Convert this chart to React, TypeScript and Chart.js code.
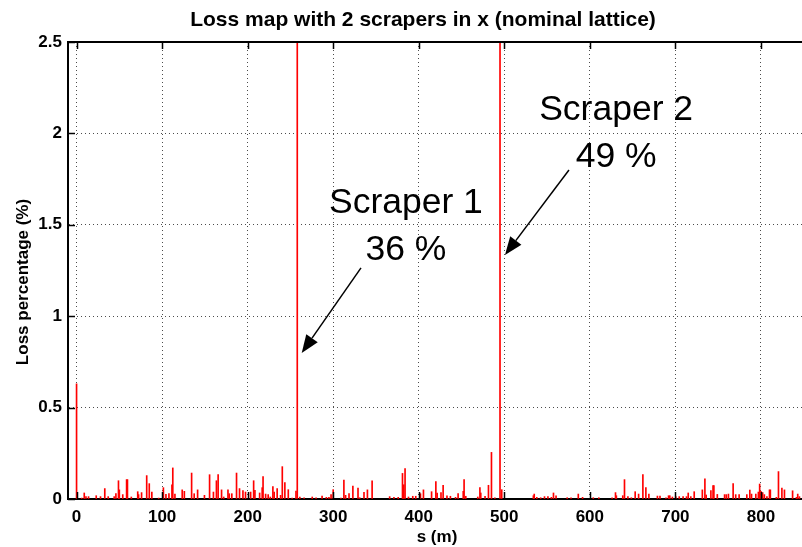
import React, { useEffect, useRef } from "react";
import { Chart, registerables } from "chart.js";

Chart.register(...registerables);

// ---- data ----
const lossS = [
  0, 6, 9, 11, 14, 23, 28, 33, 37, 44, 46, 49, 50, 54, 58.5, 59.5, 64, 71.5, 72.5, 76,
  82, 85, 88, 96, 101.5, 104.5, 108, 111.5, 112.5, 115, 123.5, 126, 134.5, 137.5, 141.5, 149.5,
  155.5, 160, 163.5, 165.5, 169.5, 172, 177, 178.5, 181.5, 187, 190.5, 194.5, 197.5, 203.5,
  207, 208.5, 214, 217, 218, 221, 224, 226.5, 229.5, 231, 234.5, 238.5, 240.5, 243.5, 247.5,
  252, 256.5, 258, 261, 266, 275.5, 280, 287, 292, 295, 297.5, 300, 309, 312.5, 314.5, 318.5,
  323, 329, 331, 336, 340, 345.5, 366, 371, 376, 381, 382.5, 384, 388, 393, 396.5, 402, 405.5,
  415, 420, 421.5, 426, 428.5, 433, 437, 443, 446, 452, 453, 455, 469, 471.5, 472.5, 477.5,
  481.5, 485, 489, 495, 497, 534, 535, 538, 542.5, 547, 551, 555, 557.5, 560.5, 573.5, 578,
  586.5, 591.5, 604, 610.5, 626, 630, 631, 638.5, 640.5, 644.5, 648.5, 653, 657, 662, 665.5,
  669, 679, 682, 689, 692, 693.5, 696.5, 700.5, 704.5, 709, 713, 715, 718, 722, 731.5, 734.5,
  736, 741.5, 744, 745, 749, 757.5, 759.5, 762, 767.5, 770.5, 774.5, 783.5, 787, 789, 794, 797,
  798.5, 800, 802, 804, 807, 810, 811, 818, 820.5, 824.5, 827.5, 837, 841.5, 843, 845,
];
const lossPct = [
  0.63, 0.005, 0.033, 0.013, 0.013, 0.018, 0.013, 0.057, 0.013, 0.013, 0.03, 0.1, 0.05, 0.024, 0.106, 0.106, 0.011, 0.04, 0.024, 0.035,
  0.128, 0.084, 0.038, 0.005, 0.062, 0.026, 0.029, 0.078, 0.17, 0.027, 0.05, 0.042, 0.142, 0.029, 0.05, 0.02,
  0.133, 0.038, 0.1, 0.133, 0.05, 0.011, 0.05, 0.029, 0.029, 0.142, 0.057, 0.046, 0.038, 0.038,
  0.1, 0.047, 0.033, 0.062, 0.122, 0.027, 0.024, 0.011, 0.068, 0.038, 0.057, 0.02, 0.177, 0.09, 0.051,
  0.005, 0.044, 36, 0.011, 0.007, 0.011, 0.007, 0.016, 0.009, 0.009, 0.024, 0.051, 0.005, 0.104, 0.02, 0.029,
  0.071, 0.06, 0.007, 0.036, 0.05, 0.1, 0.013, 0.009, 0.009, 0.14, 0.078, 0.166, 0.011, 0.015, 0.015, 0.029, 0.05,
  0.04, 0.095, 0.033, 0.035, 0.075, 0.018, 0.015, 0.009, 0.029, 0.042, 0.106, 0.015, 0.011, 0.062, 0.033, 0.015,
  0.075, 0.255, 0.007, 49, 0.051, 0.018, 0.027, 0.009, 0.007, 0.013, 0.013, 0.009, 0.033, 0.018, 0.007, 0.007,
  0.027, 0.009, 0.007, 0.007, 0.007, 0.035, 0.018, 0.018, 0.106, 0.013, 0.007, 0.04, 0.027, 0.133, 0.062,
  0.027, 0.016, 0.016, 0.007, 0.018, 0.018, 0.011, 0.013, 0.013, 0.013, 0.013, 0.033, 0.013, 0.04, 0.05, 0.111,
  0.022, 0.046, 0.073, 0.073, 0.025, 0.024, 0.024, 0.027, 0.084, 0.024, 0.024, 0.024, 0.049, 0.027, 0.027, 0.038,
  0.082, 0.042, 0.035, 0.024, 0.013, 0.05, 0.05, 0.009, 0.15, 0.06, 0.05, 0.045, 0.009, 0.027, 0.013,
];
const xTicks = [0, 100, 200, 300, 400, 500, 600, 700, 800];
const yTicks = [0, 0.5, 1, 1.5, 2, 2.5];

const titleText = "Loss map with 2 scrapers in x (nominal lattice)";
const xTitle = "s (m)";
const yTitle = "Loss percentage (%)";

// annotation text anchors and arrows, in data coordinates (s, %)
const notes = [
  { lines: ["Scraper 1", "36 %"], x: 385, y: 1.565, from: [332.5, 1.264], to: [263.2, 0.799] },
  { lines: ["Scraper 2", "49 %"], x: 630.7, y: 2.073, from: [575.6, 1.8], to: [500.8, 1.335] },
];

const FONT = "'Liberation Sans', Arial, Helvetica, sans-serif";

const decorPlugin = {
  id: "decor",
  afterDraw(chart: any) {
    const { ctx, chartArea } = chart;
    const xs = chart.scales.x;
    const ys = chart.scales.y;
    const { left, right, top, bottom } = chartArea;
    ctx.save();

    // top box line
    ctx.strokeStyle = "#000";
    ctx.lineWidth = 2;
    ctx.beginPath();
    ctx.moveTo(left - 1, top);
    ctx.lineTo(right, top);
    ctx.stroke();

    // inner ticks
    ctx.lineWidth = 1.5;
    const tl = 7;
    for (const v of xTicks) {
      const px = Math.round(xs.getPixelForValue(v)) + 0.5;
      ctx.beginPath();
      ctx.moveTo(px, bottom);
      ctx.lineTo(px, bottom - tl);
      ctx.moveTo(px, top);
      ctx.lineTo(px, top + tl);
      ctx.stroke();
    }
    for (const v of yTicks) {
      const py = Math.round(ys.getPixelForValue(v)) + 0.5;
      ctx.beginPath();
      ctx.moveTo(left, py);
      ctx.lineTo(left + tl, py);
      ctx.stroke();
    }

    // title
    ctx.fillStyle = "#000";
    ctx.font = `bold 21px ${FONT}`;
    ctx.textAlign = "center";
    ctx.textBaseline = "alphabetic";
    ctx.fillText(titleText, 423, 26);

    // x title
    ctx.font = `bold 17px ${FONT}`;
    ctx.fillText(xTitle, 437, 542);

    // y title
    ctx.save();
    ctx.translate(28, 282);
    ctx.rotate(-Math.PI / 2);
    ctx.fillText(yTitle, 0, 0);
    ctx.restore();

    // annotations
    ctx.font = `35.5px ${FONT}`;
    for (const n of notes) {
      const cx = xs.getPixelForValue(n.x);
      const cy = ys.getPixelForValue(n.y);
      n.lines.forEach((t, i) => ctx.fillText(t, cx, cy + i * 47));
      const x1 = xs.getPixelForValue(n.from[0]);
      const y1 = ys.getPixelForValue(n.from[1]);
      const x2 = xs.getPixelForValue(n.to[0]);
      const y2 = ys.getPixelForValue(n.to[1]);
      const ang = Math.atan2(y2 - y1, x2 - x1);
      const hl = 18;
      const hw = 7;
      const bx = x2 - hl * Math.cos(ang);
      const by = y2 - hl * Math.sin(ang);
      ctx.lineWidth = 1.5;
      ctx.beginPath();
      ctx.moveTo(x1, y1);
      ctx.lineTo(bx, by);
      ctx.stroke();
      ctx.beginPath();
      ctx.moveTo(x2, y2);
      ctx.lineTo(bx + hw * Math.sin(ang), by - hw * Math.cos(ang));
      ctx.lineTo(bx - hw * Math.sin(ang), by + hw * Math.cos(ang));
      ctx.closePath();
      ctx.fill();
    }
    ctx.restore();
  },
};

export default function App() {
  const ref = useRef<HTMLCanvasElement | null>(null);
  useEffect(() => {
    if (!ref.current) return;
    const data = lossS.map((s, i) => ({ x: s, y: lossPct[i] }));
    const chart = new Chart(ref.current, {
      type: "bar",
      data: {
        datasets: [
          {
            data: data as any,
            backgroundColor: "#ff0000",
            borderWidth: 0,
            barThickness: 1,
            grouped: false,
          } as any,
        ],
      },
      options: {
        animation: false,
        responsive: false,
        devicePixelRatio: 1,
        layout: { padding: { top: 42, right: 0, left: 0, bottom: 0 } },
        plugins: { legend: { display: false }, tooltip: { enabled: false }, title: { display: false } },
        scales: {
          x: {
            type: "linear",
            min: -10,
            max: 848,
            offset: false,
            afterBuildTicks: (s: any) => {
              s.ticks = xTicks.map((v) => ({ value: v }));
            },
            afterFit: (s: any) => {
              s.height = 48;
            },
            grid: { color: "rgba(0,0,0,0.7)", lineWidth: 1, drawTicks: false, offset: false },
            border: { display: true, color: "#000", width: 2, dash: [1, 3] },
            ticks: {
              color: "#000",
              font: { family: FONT, size: 17, weight: "bold" },
              padding: 8,
              maxRotation: 0,
              autoSkip: false,
            },
          },
          y: {
            type: "linear",
            min: 0,
            max: 2.5,
            afterBuildTicks: (s: any) => {
              s.ticks = yTicks.map((v) => ({ value: v }));
            },
            afterFit: (s: any) => {
              s.width = 68;
            },
            grid: { color: "rgba(0,0,0,0.7)", lineWidth: 1, drawTicks: false },
            border: { display: true, color: "#000", width: 2, dash: [1, 3] },
            ticks: {
              color: "#000",
              font: { family: FONT, size: 17, weight: "bold" },
              padding: 6,
              autoSkip: false,
              callback: (v: any) => String(v),
            },
          },
        },
      },
      plugins: [decorPlugin],
    } as any);
    return () => chart.destroy();
  }, []);
  return (
    <div style={{ position: "fixed", left: 0, top: 0, width: 802, height: 547, background: "#fff" }}>
      <canvas ref={ref} width={802} height={547} style={{ width: 802, height: 547, display: "block" }} />
    </div>
  );
}
